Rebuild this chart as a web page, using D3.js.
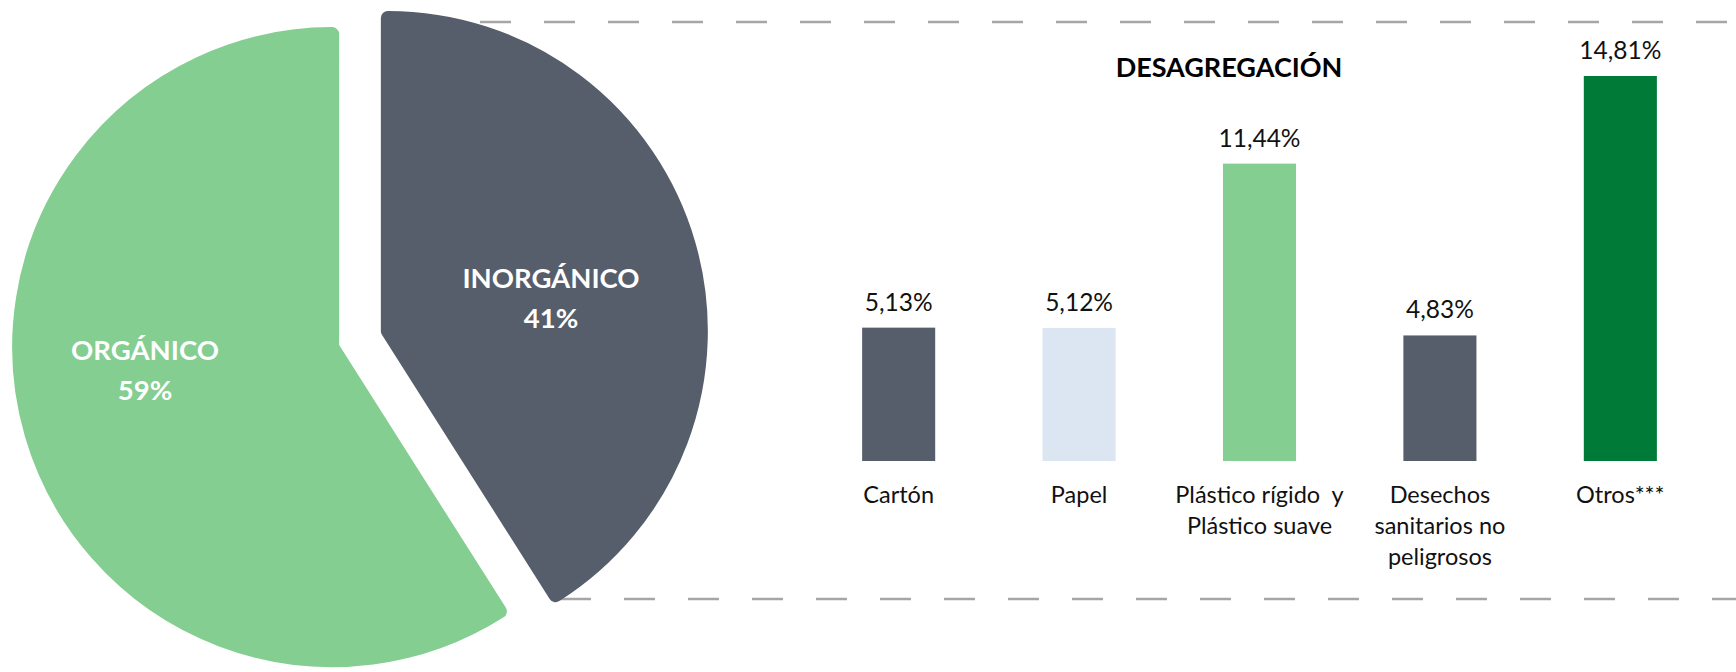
<!DOCTYPE html>
<html><head><meta charset="utf-8">
<script src="https://cdn.jsdelivr.net/npm/d3@7"></script>
<style>html,body{margin:0;padding:0;background:#fff;} svg{display:block;font-family:Lato,'Open Sans',sans-serif;}</style>
</head><body>
<svg id="chart" width="1736" height="672"></svg>
<script>
// ---- data ----
const pieCategories = ["INORGÁNICO", "ORGÁNICO"];
const pieValues = [41, 59];
const pieColors = ["#575e6b", "#83ce90"];

const barCategories = ["Cartón", "Papel", "Plástico", "Desechos", "Otros"];
const barLabelLines = [["Cartón"], ["Papel"], ["Plástico rígido  y", "Plástico suave"], ["Desechos", "sanitarios no", "peligrosos"], ["Otros***"]];
const barValues = [5.13, 5.12, 11.44, 4.83, 14.81];
const barValueLabels = ["5,13%", "5,12%", "11,44%", "4,83%", "14,81%"];
const barColors = ["#575e6b", "#dce6f2", "#83ce90", "#575e6b", "#007a37"];
const barTitle = "DESAGREGACIÓN";

// ---- drawing ----
const svg = d3.select("#chart");

// dashed frame lines (behind pie)
const dash = svg.append("g").attr("stroke", "#a6a6a6").attr("stroke-width", 2.5).attr("stroke-dasharray", "31 33");
dash.append("line").attr("x1", 480).attr("x2", 1736).attr("y1", 22).attr("y2", 22);
dash.append("line").attr("x1", 560).attr("x2", 1736).attr("y1", 599).attr("y2", 599);

// pie
const cx = 360, cy = 339, R = 320, cr = 7, explode = 29;
const pie = d3.pie().sort(null).value(d => d)(pieValues);
const arc = d3.arc().innerRadius(0).outerRadius(R - cr);
const pg = svg.append("g").attr("transform", `translate(${cx},${cy})`);
pg.selectAll("path").data(pie).join("path")
  .attr("d", arc)
  .attr("fill", (d, i) => pieColors[i])
  .attr("stroke", (d, i) => pieColors[i])
  .attr("stroke-width", cr * 2)
  .attr("stroke-linejoin", "round")
  .attr("transform", d => {
    const m = (d.startAngle + d.endAngle) / 2;
    return `translate(${explode * Math.sin(m)},${-explode * Math.cos(m)})`;
  });

const labelAnchors = [[191, -48], [-215, 24]];
pie.forEach((d, i) => {
  const t = pg.append("text")
    .attr("x", labelAnchors[i][0]).attr("y", labelAnchors[i][1])
    .attr("text-anchor", "middle").attr("fill", "#fff")
    .attr("font-weight", "bold").attr("font-size", 27.5);
  t.append("tspan").attr("x", labelAnchors[i][0]).attr("dy", "-0.1em").text(pieCategories[i]);
  t.append("tspan").attr("x", labelAnchors[i][0]).attr("dy", 40).text(pieValues[i] + "%");
});

// bars
const x = d3.scaleBand().domain(barCategories).range([808, 1711]).paddingInner(0.595).paddingOuter(0.3);
const y = d3.scaleLinear().domain([0, d3.max(barValues)]).range([461, 76]);

svg.append("g").selectAll("rect").data(barValues).join("rect")
  .attr("x", (d, i) => x(barCategories[i]))
  .attr("width", x.bandwidth())
  .attr("y", d => y(d))
  .attr("height", d => y(0) - y(d))
  .attr("fill", (d, i) => barColors[i]);

svg.append("g").selectAll("text").data(barValues).join("text")
  .attr("x", (d, i) => x(barCategories[i]) + x.bandwidth() / 2)
  .attr("y", d => y(d) - 17)
  .attr("text-anchor", "middle").attr("font-size", 24.5).attr("fill", "#111")
  .text((d, i) => barValueLabels[i]);

const cat = svg.append("g").attr("font-size", 23.5).attr("fill", "#111").attr("text-anchor", "middle");
barCategories.forEach((c, i) => {
  const cxb = x(c) + x.bandwidth() / 2;
  const t = cat.append("text").attr("x", cxb).attr("y", 503);
  barLabelLines[i].forEach((ln, j) => {
    t.append("tspan").attr("x", cxb).attr("dy", j === 0 ? 0 : 31).style("white-space", "pre").text(ln);
  });
});

svg.append("text").attr("x", 1229).attr("y", 77).attr("text-anchor", "middle")
  .attr("font-weight", "bold").attr("font-size", 27).attr("fill", "#000").text(barTitle);
</script>
</body></html>
